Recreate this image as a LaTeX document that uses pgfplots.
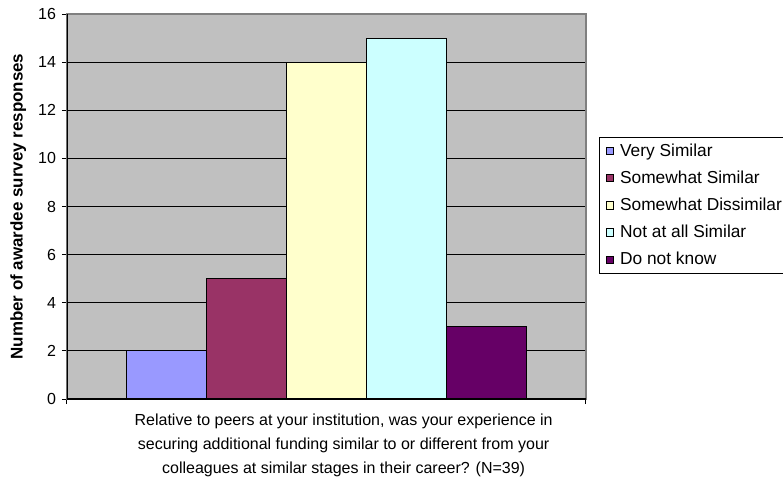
\documentclass[border=0pt]{standalone}
\usepackage{fontspec}
\setmainfont{Liberation Sans}
\usepackage{pgfplots}
\pgfplotsset{compat=1.18}
\definecolor{plotbg}{HTML}{C0C0C0}
\definecolor{frame}{HTML}{808080}
\definecolor{verysim}{HTML}{9999FF}
\definecolor{somesim}{HTML}{993366}
\definecolor{somedis}{HTML}{FFFFCC}
\definecolor{notsim}{HTML}{CCFFFF}
\definecolor{dontknow}{HTML}{660066}
\begin{document}
\begin{tikzpicture}[font=\fontsize{12}{15}\selectfont]
\useasboundingbox (-50.25pt,-60.75pt) rectangle (537pt,299.25pt);
\begin{axis}[%
    scale only axis,
    width=389.25pt, height=288.75pt,
    at={(0,0)}, anchor=south west,
    ybar, bar width=1, bar shift=0pt,
    xmin=-3.25, xmax=3.25,
    ymin=0, ymax=16,
    ytick={0,2,...,16},
    xtick={-3.25,3.25}, xticklabels={},
    tick pos=left, tick align=outside,
    major tick length=3.75pt,
    tick style={black, line width=0.75pt},
    ymajorgrids, grid style={black, line width=0.75pt},
    axis line style={draw=frame, line width=1pt},
    axis background/.style={fill=plotbg},
    /pgf/number format/assume math mode=true,
    yticklabel style={xshift=-1pt},
    ylabel={Number of awardee survey responses},
    ylabel style={at={(axis description cs:-0.094,0.5)}, anchor=center,
                  font=\fontsize{12.7}{15}\selectfont\bfseries},
    xlabel={Relative to peers at your institution, was your experience in\\
            securing additional funding similar to or different from your\\
            colleagues at similar stages in their career? (N=39)},
    xlabel style={at={(axis description cs:0.533,0)}, anchor=north,
                  align=center, yshift=-7.5pt,
                  font=\fontsize{12}{18}\selectfont},
    legend style={at={(rel axis cs:1.025,0.325)}, anchor=south west,
                  draw=black, fill=white, row sep=5.5pt,
                  inner xsep=5pt, inner ysep=3pt,
                  font=\fontsize{13}{15.6}\selectfont,
                  cells={anchor=west}},
    legend image code/.code={\draw[#1, draw=black, line width=0.5pt]
        (0pt,-2.8pt) rectangle (5.6pt,2.8pt);
        \path[draw=none, fill=none] (8.4pt,0pt) circle (0.01pt);},
    ]%
\addplot[fill=verysim, draw=black, line width=0.75pt] coordinates {(-2,2)};
\addplot[fill=somesim, draw=black, line width=0.75pt] coordinates {(-1,5)};
\addplot[fill=somedis, draw=black, line width=0.75pt] coordinates {(0,14)};
\addplot[fill=notsim, draw=black, line width=0.75pt] coordinates {(1,15)};
\addplot[fill=dontknow, draw=black, line width=0.75pt] coordinates {(2,3)};
\draw[black, line width=1pt] (rel axis cs:0,1) -- (rel axis cs:0,0) -- (rel axis cs:1,0);
\legend{Very Similar, Somewhat Similar, Somewhat Dissimilar, Not at all Similar, Do not know}
\end{axis}
\end{tikzpicture}
\end{document}
